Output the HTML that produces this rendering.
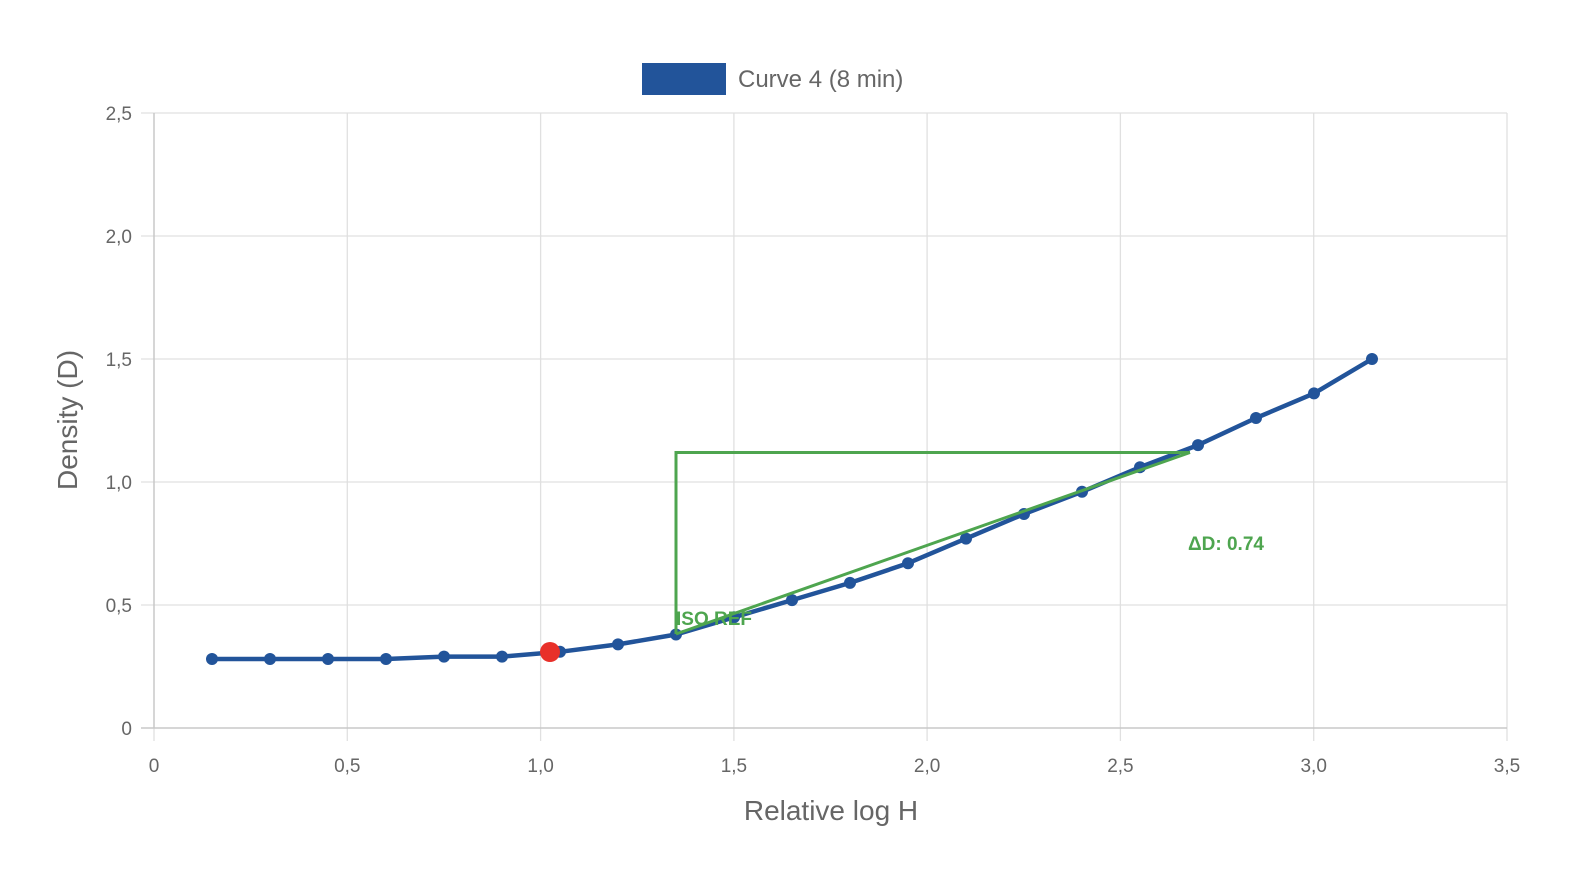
<!DOCTYPE html>
<html><head><meta charset="utf-8"><style>
html,body{margin:0;padding:0;background:#fff;width:1582px;height:869px;overflow:hidden}
svg{display:block;font-family:"Liberation Sans",Arial,sans-serif}
</style></head><body>
<svg width="1582" height="869" viewBox="0 0 1582 869">
<rect width="1582" height="869" fill="#fff"/>
<g stroke="#e0e0e0" stroke-width="1.3">
<line x1="347.3" y1="113" x2="347.3" y2="728"/><line x1="540.6" y1="113" x2="540.6" y2="728"/>
<line x1="733.9" y1="113" x2="733.9" y2="728"/><line x1="927.1" y1="113" x2="927.1" y2="728"/>
<line x1="1120.4" y1="113" x2="1120.4" y2="728"/><line x1="1313.7" y1="113" x2="1313.7" y2="728"/>
<line x1="1507" y1="113" x2="1507" y2="728"/>
<line x1="141" y1="113" x2="1507" y2="113"/><line x1="141" y1="236" x2="1507" y2="236"/>
<line x1="141" y1="359" x2="1507" y2="359"/><line x1="141" y1="482" x2="1507" y2="482"/>
<line x1="141" y1="605" x2="1507" y2="605"/>
<line x1="154" y1="728" x2="154" y2="741"/><line x1="347.3" y1="728" x2="347.3" y2="741"/><line x1="540.6" y1="728" x2="540.6" y2="741"/><line x1="733.9" y1="728" x2="733.9" y2="741"/><line x1="927.1" y1="728" x2="927.1" y2="741"/><line x1="1120.4" y1="728" x2="1120.4" y2="741"/><line x1="1313.7" y1="728" x2="1313.7" y2="741"/><line x1="1507" y1="728" x2="1507" y2="741"/>
</g>
<line x1="154" y1="113" x2="154" y2="728" stroke="#c8c8c8" stroke-width="1.5"/>
<line x1="141" y1="728" x2="1507" y2="728" stroke="#c8c8c8" stroke-width="1.5"/>
<g fill="#666" font-size="19" text-anchor="end">
<text x="132" y="120">2,5</text><text x="132" y="243">2,0</text><text x="132" y="366">1,5</text>
<text x="132" y="489">1,0</text><text x="132" y="612">0,5</text><text x="132" y="735">0</text>
</g>
<g fill="#666" font-size="19" text-anchor="middle">
<text x="154" y="772">0</text><text x="347.3" y="772">0,5</text><text x="540.6" y="772">1,0</text><text x="733.9" y="772">1,5</text><text x="927.1" y="772">2,0</text><text x="1120.4" y="772">2,5</text><text x="1313.7" y="772">3,0</text><text x="1507" y="772">3,5</text>
</g>
<text x="831" y="820" fill="#666" font-size="28" text-anchor="middle">Relative log H</text>
<text transform="translate(77,420) rotate(-90)" fill="#666" font-size="28" text-anchor="middle">Density (D)</text>
<rect x="642" y="63" width="84" height="32" fill="#22549a"/>
<text x="738" y="87" fill="#666" font-size="24">Curve 4 (8 min)</text>
<polyline fill="none" stroke="#22549a" stroke-width="4.5" stroke-linejoin="round" points="212,659 270,659 328,659 386,659 444,656.6 502,656.6 560,651.8 618,644.4 676,634.5 734,617.3 792,600.1 850,582.9 908,563.2 966,538.6 1024,514 1082,491.8 1140,467.2 1198,445.1 1256,418 1314,393.4 1372,359"/>
<g fill="#22549a">
<circle cx="212" cy="659" r="6"/><circle cx="270" cy="659" r="6"/><circle cx="328" cy="659" r="6"/><circle cx="386" cy="659" r="6"/><circle cx="444" cy="656.6" r="6"/><circle cx="502" cy="656.6" r="6"/><circle cx="560" cy="651.8" r="6"/><circle cx="618" cy="644.4" r="6"/><circle cx="676" cy="634.5" r="6"/><circle cx="734" cy="617.3" r="6"/><circle cx="792" cy="600.1" r="6"/><circle cx="850" cy="582.9" r="6"/><circle cx="908" cy="563.2" r="6"/><circle cx="966" cy="538.6" r="6"/><circle cx="1024" cy="514" r="6"/><circle cx="1082" cy="491.8" r="6"/><circle cx="1140" cy="467.2" r="6"/><circle cx="1198" cy="445.1" r="6"/><circle cx="1256" cy="418" r="6"/><circle cx="1314" cy="393.4" r="6"/><circle cx="1372" cy="359" r="6"/>
</g>
<circle cx="550" cy="652" r="10" fill="#e8302a"/>
<g stroke="#4ea54f" stroke-width="3" fill="none">
<polyline points="676,634 676,452.5 1190,452.5"/>
<line x1="676" y1="634" x2="1190" y2="452.5"/>
</g>
<text x="676" y="625" fill="#4ea54f" font-size="19" font-weight="bold">ISO REF</text>
<text x="1188" y="550" fill="#4ea54f" font-size="19" font-weight="bold">ΔD: 0.74</text>
</svg>
</body></html>
